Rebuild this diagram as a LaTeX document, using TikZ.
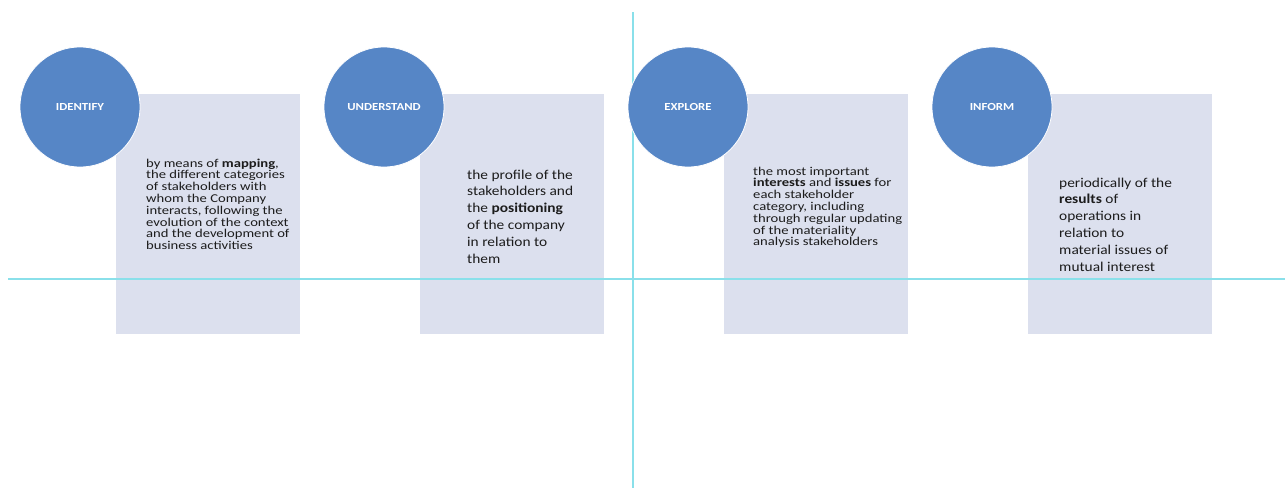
\documentclass[tikz,border=0pt]{standalone}
\usepackage{fontspec}
\setmainfont{Carlito}
\newfontfamily\cardfont[FakeStretch=1.22]{Carlito}
\newfontfamily\widecardfont[FakeStretch=1.14]{Carlito}
\newfontfamily\discfont[FakeStretch=1.18]{Carlito}
\usepackage{tikz}

\definecolor{discblue}{HTML}{5686C6}
\definecolor{cardgrey}{HTML}{DCE0EE}
\definecolor{guidecyan}{HTML}{8AE0EA}
\definecolor{inkgrey}{HTML}{1C1C1C}

\tikzset{
	disc/.style={circle, fill=discblue, draw=white, line width=0.8pt, minimum size=120pt, inner sep=0pt,
		text=white, font=\discfont\fontsize{10.8}{12}\selectfont\bfseries},
	card/.style={rectangle, fill=cardgrey, minimum width=184pt, minimum height=240pt, inner sep=0pt, anchor=north west},
	smalltext/.style={anchor=north west, align=left, inner sep=0pt, text=inkgrey, font=\cardfont\fontsize{12}{11.8}\selectfont},
	bigtext/.style={anchor=north west, align=left, inner sep=0pt, text=inkgrey, font=\widecardfont\fontsize{13.5}{16.8}\selectfont},
	guide/.style={draw=guidecyan, line width=1.2pt}
}

\begin{document}
\begin{tikzpicture}[x=1pt,y=-1pt]
			\useasboundingbox (0,0) rectangle (1285,488);
			\node [card] (box1) at (116,94) {};
			\node [card] (box2) at (420,94) {};
			\node [card] (box3) at (724,94) {};
			\node [card] (box4) at (1028,94) {};
			\coordinate (vtop) at (633,12);
			\coordinate (vbot) at (633,488);
			\coordinate (hleft) at (8,279);
			\coordinate (hright) at (1285,279);
			\draw [guide] (vtop) -- (vbot);
			\draw [guide] (hleft) -- (hright);
			\node [disc] (identify) at (80,107) {IDENTIFY};
			\node [disc] (understand) at (384,107) {UNDERSTAND};
			\node [disc] (explore) at (688,107) {EXPLORE};
			\node [disc] (inform) at (992,107) {INFORM};
			\node [smalltext] (identifytext) at (146,158.5) {by means of \textbf{mapping},\\the different categories\\of stakeholders with\\whom the Company\\interacts, following the\\evolution of the context\\and the development of\\business activities};
			\node [bigtext] (understandtext) at (467,169.5) {the profile of the\\stakeholders and\\the \textbf{positioning}\\of the company\\in relation to\\them};
			\node [smalltext] (exploretext) at (753,166.5) {the most important\\\textbf{interests} and \textbf{issues} for\\each stakeholder\\category, including\\through regular updating\\of the materiality\\analysis stakeholders};
			\node [bigtext] (informtext) at (1059,177.5) {periodically of the\\\textbf{results} of\\operations in\\relation to\\material issues of\\mutual interest};
		\end{tikzpicture}
\end{document}
